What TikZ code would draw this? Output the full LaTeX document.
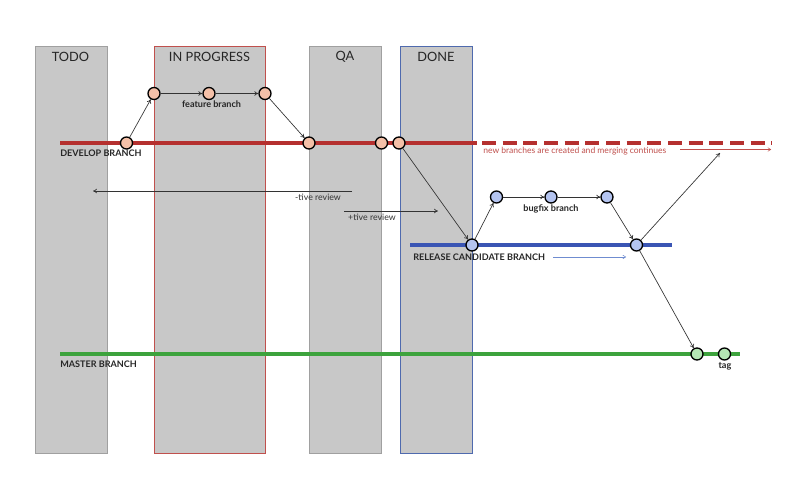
\documentclass[tikz,border=0pt]{standalone}
\usepackage{fontspec}
\setmainfont{Lato}
\usetikzlibrary{arrows.meta}
\definecolor{lanegray}{HTML}{C8C8C8}
\definecolor{laneedge}{HTML}{A0A0A0}
\definecolor{progedge}{HTML}{C0504D}
\definecolor{doneedge}{HTML}{4F6AAE}
\definecolor{devred}{HTML}{B5302F}
\definecolor{devfill}{HTML}{F4C0A8}
\definecolor{relblue}{HTML}{3A55B4}
\definecolor{relfill}{HTML}{B4C4F0}
\definecolor{mastgreen}{HTML}{3DA33D}
\definecolor{mastfill}{HTML}{B4E6B4}
\definecolor{linkgray}{HTML}{333333}
\definecolor{notered}{HTML}{C0504D}
\definecolor{noteblue}{HTML}{6F8CD0}
\begin{document}
\begin{tikzpicture}[x=0.75pt,y=-0.75pt,
  lane/.style={fill=lanegray,draw=#1,line width=0.6pt},
  heading/.style={font=\fontsize{9.6}{11}\selectfont,text=black!85},
  branchline/.style={line width=3pt,draw=#1},
  commit/.style={circle,draw=black,line width=1pt,fill=#1,minimum size=9pt,inner sep=0pt},
  link/.style={-{To[length=3pt,width=3.5pt]},line width=0.5pt,draw=linkgray},
  blabel/.style={font=\bfseries\fontsize{6.8}{8}\selectfont,text=black!85,anchor=west,inner sep=0pt},
  clabel/.style={font=\bfseries\fontsize{6.8}{8}\selectfont,text=black!85,inner sep=0pt},
  note/.style={font=\fontsize{6.6}{8}\selectfont,inner sep=0pt}]
\useasboundingbox[fill=white] (0,0) rectangle (800,501);
% lanes
\draw[lane=laneedge] (35,46) rectangle (107,453);
\draw[lane=progedge] (154,46) rectangle (265,453);
\draw[lane=laneedge] (309,46) rectangle (381,453);
\draw[lane=doneedge] (400,46) rectangle (472,453);
\node[heading] (hTodo) at (70.5,57) {TODO};
\node[heading] (hProg) at (209.5,57) {IN PROGRESS};
\node[heading] (hQA) at (345,57) {QA};
\node[heading] (hDone) at (436,57) {DONE};
% branch lines
\coordinate (devS) at (60,143);
\coordinate (devE) at (477,143);
\coordinate (devD) at (482,143);
\coordinate (devDE) at (772,143);
\draw[branchline=devred] (devS) -- (devE);
\draw[branchline=devred,dash pattern=on 10.5pt off 5pt] (devD) -- (devDE);
\coordinate (relS) at (410,245);
\coordinate (relE) at (672,245);
\draw[branchline=relblue] (relS) -- (relE);
\coordinate (masS) at (60,354);
\coordinate (masE) at (740,354);
\draw[branchline=mastgreen] (masS) -- (masE);
% branch labels
\node[blabel] (lDev) at (60,153.5) {DEVELOP BRANCH};
\node[blabel] (lRel) at (413,257) {RELEASE CANDIDATE BRANCH};
\node[blabel] (lMas) at (60,364) {MASTER BRANCH};
% commits
\node[commit=devfill] (d1) at (126.5,143) {};
\node[commit=devfill] (d2) at (309,143) {};
\node[commit=devfill] (d3) at (381.5,143) {};
\node[commit=devfill] (d4) at (399,143) {};
\node[commit=devfill] (f1) at (154,93.5) {};
\node[commit=devfill] (f2) at (209,93.5) {};
\node[commit=devfill] (f3) at (265,93.5) {};
\node[commit=relfill] (r1) at (472,245) {};
\node[commit=relfill] (r2) at (636.5,245) {};
\node[commit=relfill] (b1) at (496.5,197) {};
\node[commit=relfill] (b2) at (551,197) {};
\node[commit=relfill] (b3) at (607,197) {};
\node[commit=mastfill] (m1) at (697,354) {};
\node[commit=mastfill] (m2) at (724.5,354) {};
% commit labels
\node[clabel] (lFeat) at (211.5,104) {feature branch};
\node[clabel] (lBug) at (551,208.5) {bugfix branch};
\node[clabel] (lTag) at (725,366) {tag};
% links
\draw[link] (d1) -- (f1);
\draw[link] (f1) -- (f2);
\draw[link] (f2) -- (f3);
\draw[link] (f3) -- (d2);
\draw[link] (d4) -- (r1);
\draw[link] (r1) -- (b1);
\draw[link] (b1) -- (b2);
\draw[link] (b2) -- (b3);
\draw[link] (b3) -- (r2);
\coordinate (back) at (720,153);
\draw[link] (r2) -- (back);
\draw[link] (r2) -- (m1);
% notes
\node[note,text=notered,anchor=west,font=\fontsize{6.4}{8}\selectfont] (nNew) at (483,151) {new branches are created and merging continues};
\coordinate (nrS) at (680,149.5);
\coordinate (nrE) at (771,149.5);
\draw[-{To[length=2.5pt,width=3pt]},line width=0.4pt,draw=notered] (nrS) -- (nrE);
\coordinate (nbS) at (553,257);
\coordinate (nbE) at (626,257);
\draw[-{To[length=2.5pt,width=3pt]},line width=0.4pt,draw=noteblue] (nbS) -- (nbE);
\coordinate (negS) at (352,191);
\coordinate (negE) at (93,191);
\draw[link] (negS) -- (negE);
\node[note,text=black!80] (lNeg) at (318,197.5) {-tive review};
\coordinate (posS) at (344,211);
\coordinate (posE) at (438,211);
\draw[link] (posS) -- (posE);
\node[note,text=black!80] (lPos) at (372,217) {+tive review};
\end{tikzpicture}
\end{document}
